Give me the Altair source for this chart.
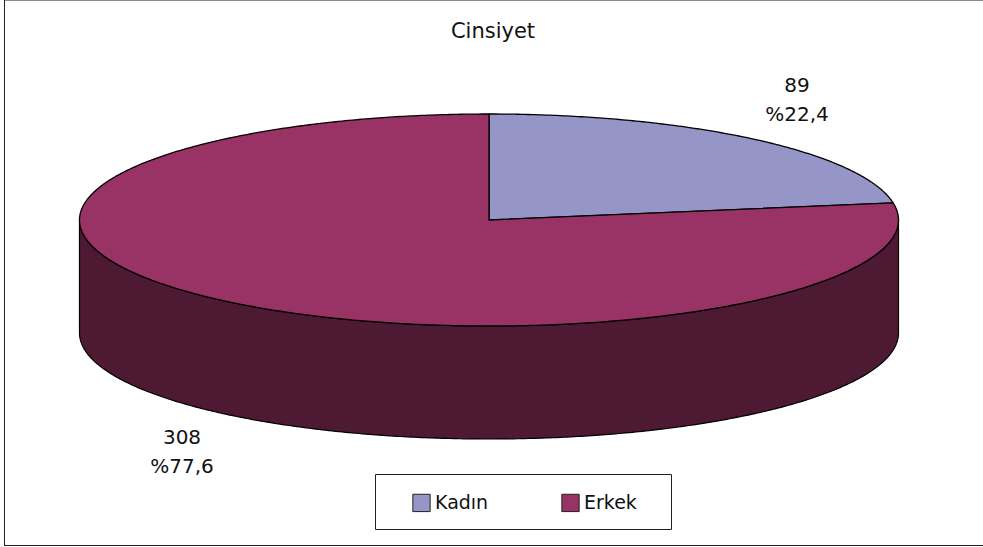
import math
import altair as alt

# Survey answers by gender
categories = ["Kadın", "Erkek"]
counts = [89, 308]
colors = ["#9595C7", "#993366"]
wall_color = "#4D1933"
title_text = "Cinsiyet"

WIDTH, HEIGHT = 983, 547
CX, CY = 489, 220      # centre of the pie's top face
RX, RY = 409.5, 106    # radii of the tilted disc
DEPTH = 113            # thickness of the disc
FONT = "DejaVu Sans"


def rim(deg, dy=0):
    """Point on the disc rim, clockwise from twelve o'clock."""
    a = math.radians(deg)
    return [CX + RX * math.sin(a), CY - RY * math.cos(a) + dy]


def feature(ring, name):
    return {
        "type": "Feature",
        "properties": {"name": name},
        "geometry": {"type": "Polygon", "coordinates": [ring + [ring[0]]]},
    }


def arc(start, end, dy=0):
    steps = max(2, int(abs(end - start) * 2))
    return [rim(start + (end - start) * i / steps, dy) for i in range(steps + 1)]


# Slice outlines follow the cumulative share of each category
total = sum(counts)
slices, start = [], 0.0
for name, count in zip(categories, counts):
    end = start + 360 * count / total
    slices.append(feature([[CX, CY]] + arc(start, end), name))
    start = end

# Visible front of the disc: lower half of the rim, extruded downward
wall = [feature(arc(90, 270) + arc(270, 90, DEPTH), "wall")]

projection = alt.Projection(type="identity", scale=1, translate=[0, 0])

wall_layer = (
    alt.Chart(alt.Data(values=wall))
    .mark_geoshape(fill=wall_color, stroke="black", strokeWidth=1.2)
    .project(**projection.to_dict())
)

slice_layer = (
    alt.Chart(alt.Data(values=slices))
    .mark_geoshape(stroke="black", strokeWidth=1.3)
    .encode(
        color=alt.Color(
            "properties.name:N",
            scale=alt.Scale(domain=categories, range=colors),
            legend=alt.Legend(
                title=None,
                orient="none",
                legendX=394,
                legendY=475,
                direction="horizontal",
                symbolType="square",
                symbolSize=300,
                symbolStrokeColor="#222222",
                symbolStrokeWidth=1,
                labelFont=FONT,
                labelFontSize=19,
                labelColor="#111111",
                labelOffset=4,
                columnPadding=70,
                padding=18,
            ),
        )
    )
    .project(**projection.to_dict())
)

# Box behind the legend entries
legend_box = (
    alt.Chart(alt.Data(values=[{}]))
    .mark_rect(fill="white", stroke="#222222", strokeWidth=1)
    .encode(x=alt.value(375.5), x2=alt.value(671.5), y=alt.value(474.5), y2=alt.value(529.5))
)

# Count and share captions, two lines each
labels = [
    {"t": f"{c}\n%{100 * c / total:.1f}".replace(".", ","), "px": x, "py": y}
    for c, x, y in zip(counts, [797, 182], [86, 437.5])
]
label_layer = (
    alt.Chart(alt.Data(values=labels))
    .mark_text(font=FONT, fontSize=20, color="#111111", lineBreak="\n", lineHeight=29, baseline="middle")
    .encode(
        x=alt.X("px:Q", scale=None),
        y=alt.Y("py:Q", scale=None),
        text="t:N",
    )
)

title_layer = (
    alt.Chart(alt.Data(values=[{"t": title_text}]))
    .mark_text(font=FONT, fontSize=21, color="#111111")
    .encode(x=alt.value(493), y=alt.value(32), text="t:N")
)

# Thin frame around the chart
frame = [
    alt.Chart(alt.Data(values=[{}])).mark_rule(color=c, strokeWidth=w).encode(
        x=alt.value(x0), x2=alt.value(x1), y=alt.value(y0), y2=alt.value(y1)
    )
    for c, w, x0, x1, y0, y1 in [
        ("#8c8c8c", 1, 4, WIDTH, 0.5, 0.5),
        ("#222222", 1, 4.5, 4.5, 0, 546),
        ("#222222", 1, 4, WIDTH, 545.5, 545.5),
    ]
]

chart = alt.layer(
    wall_layer, slice_layer, legend_box, label_layer, title_layer, *frame
).properties(
    width=WIDTH,
    height=HEIGHT,
    padding=0,
    autosize=alt.AutoSizeParams(type="none"),
    background="white",
).configure_view(stroke=None)

chart.save("out.html", embed_options={"renderer": "svg", "actions": False})
